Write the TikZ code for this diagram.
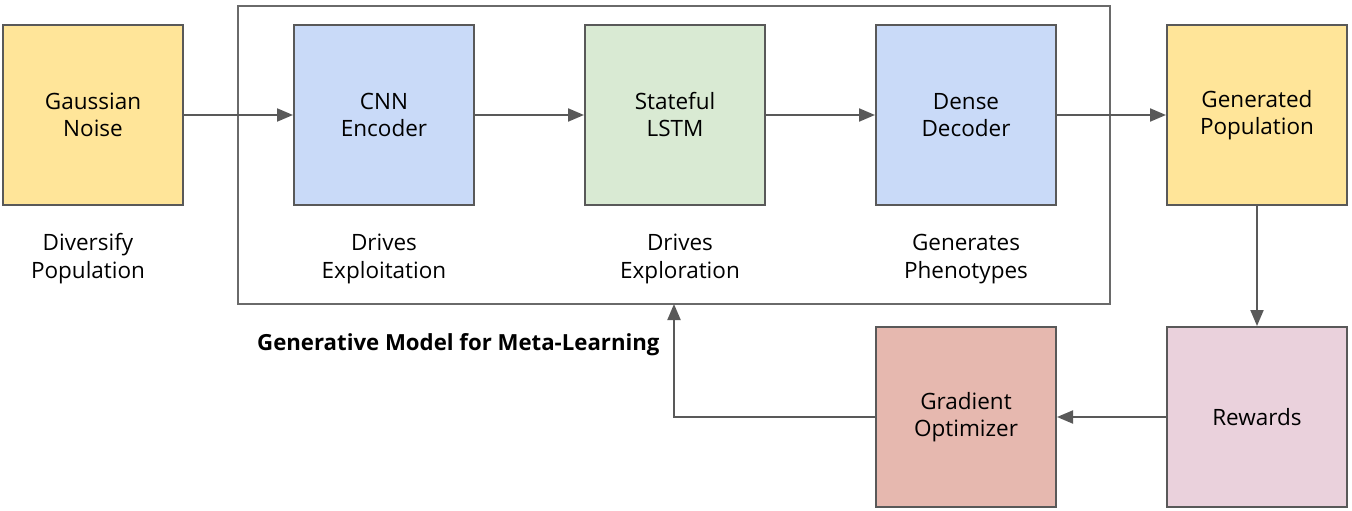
\documentclass[tikz,border=0pt]{standalone}
\usepackage{fontspec}
\setmainfont{Open Sans}
\usetikzlibrary{arrows.meta}
\definecolor{cyel}{HTML}{FFE599}
\definecolor{cblu}{HTML}{C9DAF8}
\definecolor{cgrn}{HTML}{D9EAD3}
\definecolor{cred}{HTML}{E6B8AF}
\definecolor{cpnk}{HTML}{EAD1DC}
\definecolor{cline}{HTML}{595959}
\tikzset{
  box/.style={draw=cline, line width=2pt, minimum width=180pt, minimum height=180pt, inner sep=0pt, align=center, font=\fontsize{22.5}{27}\selectfont},
  lbl/.style={align=center, font=\fontsize{22.5}{28}\selectfont, inner sep=0pt},
  conn/.style={draw=cline, line width=2pt, -{Triangle[length=16pt,width=13pt]}},
}
\begin{document}
\begin{tikzpicture}[x=1pt,y=-1pt]
\useasboundingbox (0,0) rectangle (1352,511);
\node[draw=cline!90, line width=1.6pt, minimum width=872pt, minimum height=298pt, inner sep=0pt] (frame) at (674,155) {};
\node[box, fill=cyel] (gn) at (93,115) {Gaussian\\Noise};
\node[box, fill=cblu] (cnn) at (384,115) {CNN\\Encoder};
\node[box, fill=cgrn] (lstm) at (675,115) {Stateful\\LSTM};
\node[box, fill=cblu] (dd) at (966,115) {Dense\\Decoder};
\node[box, fill=cyel] (gp) at (1257,115) {Generated\\Population};
\node[box, fill=cpnk] (rw) at (1257,417) {Rewards};
\node[box, fill=cred] (go) at (966,417) {Gradient\\Optimizer};
\node[lbl] (l1) at (88,259) {Diversify\\Population};
\node[lbl] (l2) at (384,259) {Drives\\Exploitation};
\node[lbl] (l3) at (680,259) {Drives\\Exploration};
\node[lbl] (l4) at (966,259) {Generates\\Phenotypes};
\node[lbl, font=\fontsize{22.2}{24}\bfseries\selectfont, anchor=west] (title) at (257,345) {Generative Model for Meta-Learning};
\coordinate (fb) at (674,304);
\draw[conn] (gn) -- (cnn);
\draw[conn] (cnn) -- (lstm);
\draw[conn] (lstm) -- (dd);
\draw[conn] (dd) -- (gp);
\draw[conn] (gp) -- (rw);
\draw[conn] (rw) -- (go);
\draw[conn] (go.west) -| (fb);
\end{tikzpicture}
\end{document}
